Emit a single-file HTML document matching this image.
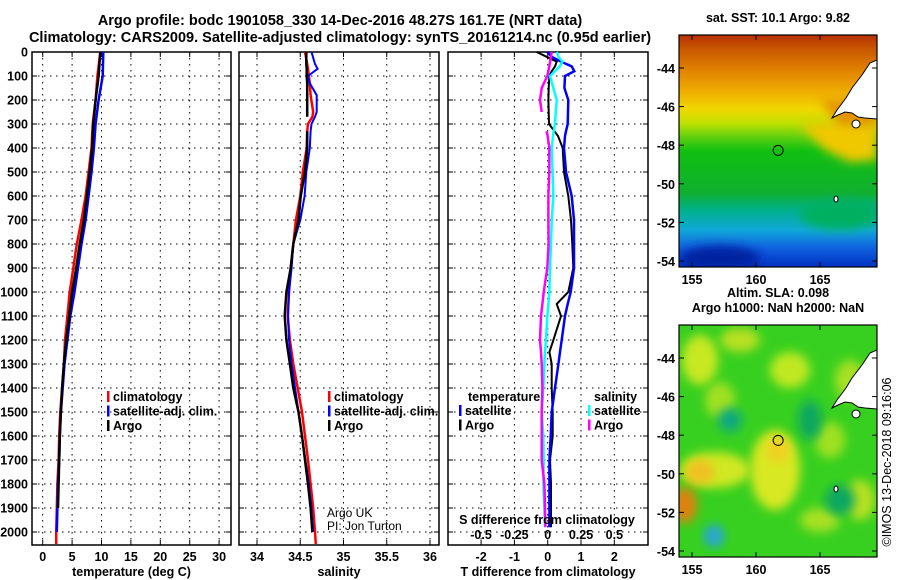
<!DOCTYPE html>
<html><head><meta charset="utf-8"><style>
body{margin:0;background:#fff;}
svg{display:block;font-family:"Liberation Sans",sans-serif;}
.t{font-weight:bold;font-size:14.5px;}
.tk{font-weight:bold;font-size:12.5px;}
</style></head><body>
<svg id="c" width="900" height="580" viewBox="0 0 900 580" xmlns="http://www.w3.org/2000/svg">
<defs>
<linearGradient id="sstg" x1="0" y1="0" x2="0" y2="1">
<stop offset="0" stop-color="#b83000"/><stop offset="0.06" stop-color="#c85800"/>
<stop offset="0.15" stop-color="#e08000"/><stop offset="0.25" stop-color="#f0b000"/>
<stop offset="0.32" stop-color="#f0d800"/><stop offset="0.38" stop-color="#c0e000"/>
<stop offset="0.44" stop-color="#60d010"/><stop offset="0.5" stop-color="#10c010"/>
<stop offset="0.68" stop-color="#10b030"/><stop offset="0.76" stop-color="#00b090"/>
<stop offset="0.84" stop-color="#10a8d8"/><stop offset="0.92" stop-color="#1060e0"/>
<stop offset="1" stop-color="#0030c0"/>
</linearGradient>
<filter id="bl" x="-50%" y="-50%" width="200%" height="200%"><feGaussianBlur stdDeviation="5"/></filter>
<clipPath id="m1c"><rect x="679" y="35" width="198" height="232"/></clipPath>
<clipPath id="m2c"><rect x="679" y="325" width="198" height="232"/></clipPath>
</defs>
<text class="t" x="340" y="25" text-anchor="middle">Argo profile: bodc 1901058_330 14-Dec-2016 48.27S 161.7E (NRT data)</text>
<text class="t" x="340" y="42" text-anchor="middle">Climatology: CARS2009. Satellite-adjusted climatology: synTS_20161214.nc (0.95d earlier)</text>
<g id="plots"></g>
<g id="maps"></g>
</svg>
<script>
// ---- data ----
const tempDepths = [0,100,200,300,400,500,600,700,800,900,1000,1100,1200,1300,1400,1500,1600,1700,1800,1900,2000,2050];
const tempClim   = [9.8,9.3,9.0,8.5,8.3,7.8,7.3,6.6,5.8,5.2,4.6,4.2,3.8,3.6,3.3,3.0,2.8,2.7,2.5,2.4,2.3,2.3];
const tempSat    = [10.3,10.2,9.5,9.0,8.7,8.3,7.8,7.3,6.6,6.0,5.4,4.7,4.2,3.7,3.4,3.1,2.9,2.8,2.6,2.5,2.4,null];
const tempArgo   = [9.8,9.5,9.0,8.6,8.4,8.0,7.5,7.0,6.3,5.7,5.0,4.5,4.0,3.6,3.3,3.1,2.9,2.8,2.7,2.6,null,null];
const salDepths = [0,50,70,100,130,180,250,270,300,330,400,500,600,700,800,900,1000,1100,1200,1300,1400,1500,1600,1700,1800,1900,2000,2050];
const salClim   = [34.555,34.58,34.59,34.6,34.61,34.62,34.65,34.64,34.59,34.58,34.575,34.53,34.5,34.45,34.42,34.39,34.37,34.355,34.38,34.42,34.47,34.52,34.555,34.59,34.62,34.65,34.67,34.68];
const salSat    = [34.63,34.67,34.70,34.59,34.61,34.69,34.69,34.67,34.63,34.62,34.61,34.57,34.55,34.50,34.42,34.40,34.37,34.36,34.37,34.40,34.44,34.48,34.52,34.56,34.60,34.63,34.65,null];
const salArgo   = [34.57,34.57,34.575,34.575,34.58,34.58,34.58,34.58,null,34.58,34.58,34.555,34.505,34.48,34.42,34.39,34.34,34.32,34.34,34.38,34.42,34.48,34.52,34.555,34.59,34.62,34.64,null];
const dDepths = [0,20,40,60,80,100,150,200,250,300,330,350,400,500,600,700,800,900,1000,1050,1100,1200,1250,1300,1400,1500,1600,1700,1800,1900,1980];
const dTArgo  = [-0.33,-0.03,0.27,0.22,0.12,0.05,0.03,0.02,0.03,0.04,0.2,0.31,0.45,0.49,0.62,0.70,0.74,0.77,0.62,0.27,0.40,0.17,0.05,0.12,0.12,0.15,0.15,0.07,0.10,0.10,0.10];
const dTSat   = [-0.01,0.12,0.4,0.72,0.8,0.52,0.5,0.62,0.61,0.6,0.55,0.52,0.49,0.55,0.72,0.79,0.79,0.79,0.69,0.6,0.52,0.42,0.37,0.32,0.22,0.12,0.09,0.05,0.05,0.05,0.05];
const dSSat   = [0.0675,0.08,0.11,0.09,0.055,0.017,0.042,0.068,0.06,0.055,0.045,0.04,0.03,0.037,0.042,0.03,0.025,0.017,0.012,0.005,-0.003,-0.013,-0.02,-0.025,-0.033,-0.045,-0.033,-0.03,-0.033,-0.025,-0.02];
const dSArgo  = [0.03,0.025,0.018,0.012,0.005,-0.003,-0.045,-0.058,-0.045,null,-0.008,0.0,0.012,0.012,0.005,0.005,0.007,-0.003,-0.03,-0.04,-0.05,-0.058,-0.05,-0.045,-0.04,-0.045,-0.045,-0.045,-0.025,-0.02,-0.017];
const depthTicks = [0,100,200,300,400,500,600,700,800,900,1000,1100,1200,1300,1400,1500,1600,1700,1800,1900,2000];
const tTicks = [0,5,10,15,20,25,30];
const sTicks = [34,34.5,35,35.5,36];
const sTickLabels = ["34","34.5","35","35.5","36"];
const dtTicks = [-2,-1,0,1,2];
const dsTicks = [-0.5,-0.25,0,0.25,0.5];
const dsTickLabels = ["-0.5","-0.25","0","0.25","0.5"];
const latTicks = [-44,-46,-48,-50,-52,-54];
const lonTicks = [155,160,165];
const argoLon = 161.73, argoLat = -48.27;

// ---- helpers ----
const NS="http://www.w3.org/2000/svg";
function mk(tag,attrs,parent,text){const e=document.createElementNS(NS,tag);for(const k in attrs)e.setAttribute(k,attrs[k]);if(text!==undefined)e.textContent=text;parent.appendChild(e);return e;}
const yD = d => 52 + d*0.24;
const P = document.getElementById('plots');
const PT=52, PB=545;
function panel(name,x0,x1,xs,ticks,labels,xtitle,gridTicks){
  const g=mk('g',{},P);
  
  
  (gridTicks||ticks).forEach(v=>{const x=xs(v);mk('line',{x1:x,x2:x,y1:PT,y2:PB,stroke:'#000','stroke-width':1,'stroke-dasharray':'1.5 4.5'},g);});
  depthTicks.forEach(d=>{const y=yD(d);if(d>0)mk('line',{x1:x0,x2:x1,y1:y,y2:y,stroke:'#000','stroke-width':1,'stroke-dasharray':'1.5 4.5'},g);
    mk('line',{x1:x0,x2:x0+5,y1:y,y2:y,stroke:'#000'},g);mk('line',{x1:x1-5,x2:x1,y1:y,y2:y,stroke:'#000'},g);});
  ticks.forEach(v=>{const x=xs(v);mk('line',{x1:x,x2:x,y1:PB-5,y2:PB,stroke:'#000'},g);mk('line',{x1:x,x2:x,y1:PT,y2:PT+5,stroke:'#000'},g);});
  mk('rect',{x:x0,y:PT,width:x1-x0,height:PB-PT,fill:'none',stroke:'#000','stroke-width':1.5},g);
  if(labels){ticks.forEach((v,i)=>{const t=mk('text',{x:xs(v),y:561,'text-anchor':'middle',class:'tk'},g,labels[i]);});}
  const tt=mk('text',{x:(x0+x1)/2,y:576,'text-anchor':'middle',class:'tk'},g,xtitle);
  
  return g;
}
function series(g,name,depths,vals,xs,color,w){
  let segs=[],cur=[];
  depths.forEach((d,i)=>{const v=vals[i];if(v===null||v===undefined){if(cur.length)segs.push(cur);cur=[];}else cur.push(xs(v).toFixed(1)+','+yD(d).toFixed(1));});
  if(cur.length)segs.push(cur);
  segs.forEach(s=>{const p=mk('polyline',{points:s.join(' '),fill:'none',stroke:color,'stroke-width':w,'stroke-linejoin':'miter'},g);
    });
}
function legend(g,x,y,items){
  items.forEach((it,i)=>{const yy=y+i*14.5;
    mk('rect',{x:x,y:yy-10,width:2.5,height:11,fill:it[1]},g);
    const t=mk('text',{x:x+6,y:yy,class:'tk'},g,it[0]);
    });
}
depthTicks.forEach(d=>{const t=mk('text',{x:28,y:yD(d)+4.5,'text-anchor':'end',class:'tk'},P,String(d));
  });

const xT=v=>42.7+v*5.88;
const g1=panel('temperature-panel',32,231,xT,tTicks,tTicks.map(String),'temperature (deg C)');
series(g1,'temp-climatology-line',tempDepths,tempClim,xT,'#f00',2.5);
series(g1,'temp-satellite-line',tempDepths,tempSat,xT,'#00f',2.5);
series(g1,'temp-argo-line',tempDepths,tempArgo,xT,'#000',2.5);
legend(g1,107,401,[['climatology','#f00'],['satellite-adj. clim.','#00f'],['Argo','#000']]);

const xS=v=>257+(v-34)*86.5;
const g2=panel('salinity-panel',239,439,xS,sTicks,sTickLabels,'salinity');
series(g2,'sal-climatology-line',salDepths,salClim,xS,'#f00',2.5);
series(g2,'sal-satellite-line',salDepths,salSat,xS,'#00f',2);
series(g2,'sal-argo-line',salDepths,salArgo,xS,'#000',2.5);
legend(g2,328,401,[['climatology','#f00'],['satellite-adj. clim.','#00f'],['Argo','#000']]);
mk('text',{x:327,y:517,'font-size':'12px'},g2,'Argo UK');
mk('text',{x:327,y:530,'font-size':'12px'},g2,'PI: Jon Turton');

const xDT=v=>547.7+v*33.3;
const xDS=v=>547.7+v*133.3;
const g3=panel('difference-panel',448,648,xDT,dtTicks,null,'T difference from climatology');
dtTicks.forEach(v=>{const t=mk('text',{x:xDT(v),y:561,'text-anchor':'middle',class:'tk'},g3,String(v));});
series(g3,'dt-argo-line',dDepths,dTArgo,xDT,'#000',2);
series(g3,'dt-satellite-line',dDepths,dTSat,xDT,'#00f',2.5);
series(g3,'ds-satellite-line',dDepths,dSSat,xDS,'#0ff',2.5);
series(g3,'ds-argo-line',dDepths,dSArgo,xDS,'#f0f',2.5);
mk('text',{x:468,y:401,class:'tk'},g3,'temperature');
legend(g3,459,415,[['satellite','#00f'],['Argo','#000']]);
mk('text',{x:594,y:401,class:'tk'},g3,'salinity');
legend(g3,588,415,[['satellite','#0ff'],['Argo','#f0f']]);
mk('text',{x:547,y:524,'text-anchor':'middle',class:'tk'},g3,'S difference from climatology');
dsTicks.forEach((v,i)=>{const t=mk('text',{x:xDS(v),y:539,'text-anchor':'middle',class:'tk'},g3,dsTickLabels[i]);});

// ---- maps ----
const M=document.getElementById('maps');
const lonX=v=>692+(v-155)*12.8;
function map(name,top,clip,fillFn,title){
  const g=mk('g',{},M);
  
  const latY=v=>top+33+(-44-v)*19.3;
  const inner=mk('g',{'clip-path':'url(#'+clip+')'},g);
  fillFn(inner,top);
  const c=mk('polygon',{points:[[877,60],[870,63],[862,75],[852,88],[846,98],[837,110],[832,118],[838,115],[845,112],[852,113],[858,117],[865,118],[877,119]].map(p=>p[0]+','+(p[1]-35+top)).join(' '),fill:'#fff',stroke:'#000','stroke-width':1},inner);
  
  mk('ellipse',{cx:856,cy:124-35+top,rx:4,ry:4,fill:'#fff',stroke:'#000'},inner);
  mk('ellipse',{cx:836,cy:199-35+top,rx:2,ry:3,fill:'#fff',stroke:'#000'},inner);
  mk('rect',{x:679,y:top,width:198,height:232,fill:'none',stroke:'#000','stroke-width':1.2},g);
  latTicks.forEach(v=>{const y=latY(v);mk('line',{x1:679,x2:684,y1:y,y2:y,stroke:'#000'},g);mk('line',{x1:872,x2:877,y1:y,y2:y,stroke:'#000'},g);
    const t=mk('text',{x:675,y:y+5,'text-anchor':'end',class:'tk'},g,String(v));});
  lonTicks.forEach(v=>{const x=lonX(v);mk('line',{x1:x,x2:x,y1:top,y2:top+5,stroke:'#000'},g);mk('line',{x1:x,x2:x,y1:top+227,y2:top+232,stroke:'#000'},g);
    const t=mk('text',{x:x,y:top+249,'text-anchor':'middle',class:'tk'},g,String(v));});
  const m=mk('circle',{cx:lonX(argoLon),cy:latY(argoLat),r:5,fill:'none',stroke:'#000','stroke-width':1},g);
  
  title.forEach((s,i)=>{const t=mk('text',{x:778,y:top-13-(title.length-1-i)*15,'text-anchor':'middle',class:'tk'},g,s);});
}
map('sst-map',35,'m1c',(g,top)=>{
  mk('rect',{x:679,y:top,width:198,height:232,fill:'url(#sstg)'},g);
  mk('polygon',{points:'800,125 840,120 877,122 877,160 850,162 825,150',fill:'#f0c800',filter:'url(#bl)'},g);
  mk('polygon',{points:'820,100 877,100 877,125 840,125',fill:'#e49000',filter:'url(#bl)'},g);
  mk('ellipse',{cx:720,cy:258,rx:40,ry:12,fill:'#0020a0',filter:'url(#bl)'},g);
  mk('ellipse',{cx:840,cy:215,rx:40,ry:15,fill:'#00b060',filter:'url(#bl)'},g);
},['sat. SST: 10.1 Argo: 9.82']);
map('sla-map',325,'m2c',(g,top)=>{
  const o=top-325;
  mk('rect',{x:679,y:top,width:198,height:232,fill:'#38d020'},g);
  [[700,360,18,25,'#c8e820'],[720,400,15,18,'#a0e020'],[790,370,20,18,'#c0e820'],[850,380,15,20,'#a8e020'],
   [775,470,25,40,'#d8e820'],[778,450,12,12,'#f0d020'],[715,470,35,18,'#d0e820'],[700,472,15,12,'#f0c020'],
   [685,505,12,18,'#e08010'],[740,340,20,12,'#b8e020'],[830,440,15,18,'#a0e020'],[860,500,15,20,'#b8e020'],[820,520,20,12,'#a8e020']
  ].forEach(b=>mk('ellipse',{cx:b[0],cy:b[1]+o,rx:b[2],ry:b[3],fill:b[4],filter:'url(#bl)'},g));
  [[730,420,12,12,'#10a880'],[810,420,12,20,'#10a860'],[840,500,15,15,'#10a860']].forEach(b=>mk('ellipse',{cx:b[0],cy:b[1]+o,rx:b[2],ry:b[3],fill:b[4],filter:'url(#bl)'},g));
  mk('ellipse',{cx:714,cy:536+o,rx:8,ry:8,fill:'#3090f0',filter:'url(#bl)'},g);
  mk('ellipse',{cx:714,cy:536+o,rx:10,ry:12,fill:'#20b0d0',opacity:0.6,filter:'url(#bl)'},g);
},['Altim. SLA: 0.098','Argo h1000: NaN h2000: NaN']);
const st=mk('text',{x:0,y:0,'font-size':'12.5px',transform:'translate(891,462) rotate(-90)','text-anchor':'middle'},M,'©IMOS 13-Dec-2018 09:16:06');


</script>
</body></html>
